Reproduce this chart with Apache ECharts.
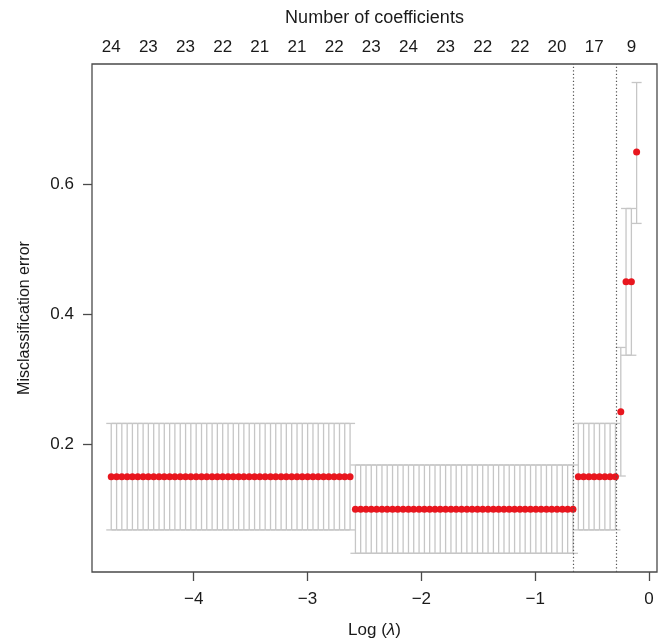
<!DOCTYPE html>
<html>
<head>
<meta charset="utf-8">
<title>cv misclassification error</title>
<script src="https://cdn.jsdelivr.net/npm/echarts@6/dist/echarts.min.js"></script>
<style>
    html, body { margin: 0; padding: 0; background: #fff; }
    #chart { width: 666px; height: 644px; }
</style>
</head>
<body>
<div id="chart"></div>
<script>
    // log(lambda) for the 100 fitted lambdas
    var logLambda = [
        -4.724, -4.677, -4.631, -4.584, -4.538, -4.491, -4.444, -4.398, -4.351, -4.304,
        -4.258, -4.211, -4.165, -4.118, -4.071, -4.025, -3.978, -3.931, -3.885, -3.838,
        -3.792, -3.745, -3.698, -3.652, -3.605, -3.559, -3.512, -3.465, -3.419, -3.372,
        -3.325, -3.279, -3.232, -3.186, -3.139, -3.092, -3.046, -2.999, -2.952, -2.906,
        -2.859, -2.813, -2.766, -2.719, -2.673, -2.626, -2.579, -2.533, -2.486, -2.440,
        -2.393, -2.346, -2.300, -2.253, -2.207, -2.160, -2.113, -2.067, -2.020, -1.973,
        -1.927, -1.880, -1.834, -1.787, -1.740, -1.694, -1.647, -1.600, -1.554, -1.507,
        -1.461, -1.414, -1.367, -1.321, -1.274, -1.228, -1.181, -1.134, -1.088, -1.041,
        -0.994, -0.948, -0.901, -0.855, -0.808, -0.761, -0.715, -0.668, -0.621, -0.575,
        -0.528, -0.482, -0.435, -0.388, -0.342, -0.295, -0.248, -0.202, -0.155, -0.109
    ];

    // mean cv misclassification error
    var cvm = [
        0.15, 0.15, 0.15, 0.15, 0.15, 0.15, 0.15, 0.15, 0.15, 0.15,
        0.15, 0.15, 0.15, 0.15, 0.15, 0.15, 0.15, 0.15, 0.15, 0.15,
        0.15, 0.15, 0.15, 0.15, 0.15, 0.15, 0.15, 0.15, 0.15, 0.15,
        0.15, 0.15, 0.15, 0.15, 0.15, 0.15, 0.15, 0.15, 0.15, 0.15,
        0.15, 0.15, 0.15, 0.15, 0.15, 0.15, 0.10, 0.10, 0.10, 0.10,
        0.10, 0.10, 0.10, 0.10, 0.10, 0.10, 0.10, 0.10, 0.10, 0.10,
        0.10, 0.10, 0.10, 0.10, 0.10, 0.10, 0.10, 0.10, 0.10, 0.10,
        0.10, 0.10, 0.10, 0.10, 0.10, 0.10, 0.10, 0.10, 0.10, 0.10,
        0.10, 0.10, 0.10, 0.10, 0.10, 0.10, 0.10, 0.10, 0.15, 0.15,
        0.15, 0.15, 0.15, 0.15, 0.15, 0.15, 0.25, 0.45, 0.45, 0.65
    ];

    // upper end of error bar (cvm + sd)
    var cvup = [
        0.232, 0.232, 0.232, 0.232, 0.232, 0.232, 0.232, 0.232, 0.232, 0.232,
        0.232, 0.232, 0.232, 0.232, 0.232, 0.232, 0.232, 0.232, 0.232, 0.232,
        0.232, 0.232, 0.232, 0.232, 0.232, 0.232, 0.232, 0.232, 0.232, 0.232,
        0.232, 0.232, 0.232, 0.232, 0.232, 0.232, 0.232, 0.232, 0.232, 0.232,
        0.232, 0.232, 0.232, 0.232, 0.232, 0.232, 0.168, 0.168, 0.168, 0.168,
        0.168, 0.168, 0.168, 0.168, 0.168, 0.168, 0.168, 0.168, 0.168, 0.168,
        0.168, 0.168, 0.168, 0.168, 0.168, 0.168, 0.168, 0.168, 0.168, 0.168,
        0.168, 0.168, 0.168, 0.168, 0.168, 0.168, 0.168, 0.168, 0.168, 0.168,
        0.168, 0.168, 0.168, 0.168, 0.168, 0.168, 0.168, 0.168, 0.232, 0.232,
        0.232, 0.232, 0.232, 0.232, 0.232, 0.232, 0.349, 0.563, 0.563, 0.757
    ];

    // lower end of error bar (cvm - sd)
    var cvlo = [
        0.068, 0.068, 0.068, 0.068, 0.068, 0.068, 0.068, 0.068, 0.068, 0.068,
        0.068, 0.068, 0.068, 0.068, 0.068, 0.068, 0.068, 0.068, 0.068, 0.068,
        0.068, 0.068, 0.068, 0.068, 0.068, 0.068, 0.068, 0.068, 0.068, 0.068,
        0.068, 0.068, 0.068, 0.068, 0.068, 0.068, 0.068, 0.068, 0.068, 0.068,
        0.068, 0.068, 0.068, 0.068, 0.068, 0.068, 0.032, 0.032, 0.032, 0.032,
        0.032, 0.032, 0.032, 0.032, 0.032, 0.032, 0.032, 0.032, 0.032, 0.032,
        0.032, 0.032, 0.032, 0.032, 0.032, 0.032, 0.032, 0.032, 0.032, 0.032,
        0.032, 0.032, 0.032, 0.032, 0.032, 0.032, 0.032, 0.032, 0.032, 0.032,
        0.032, 0.032, 0.032, 0.032, 0.032, 0.032, 0.032, 0.032, 0.068, 0.068,
        0.068, 0.068, 0.068, 0.068, 0.068, 0.068, 0.151, 0.337, 0.337, 0.540
    ];

    // top axis: number of nonzero coefficients
    var nzPos = [-4.724, -4.398, -4.071, -3.745, -3.419, -3.092, -2.766, -2.440,
                 -2.113, -1.787, -1.461, -1.134, -0.808, -0.482, -0.155];
    var nzLabels = ['24', '23', '23', '22', '21', '21', '22', '23',
                    '24', '23', '22', '22', '20', '17', '9'];

    var xTicks = [-4, -3, -2, -1, 0];
    var yTicks = [0.2, 0.4, 0.6];

    // lambda.min and lambda.1se
    var lambdaMarks = [-0.668, -0.295];

    var fontFamily = '"Liberation Sans", Arial, Helvetica, sans-serif';
    var textColor = '#1a1a1a';
    var frameColor = '#4a4a4a';

    var barData = [], pointData = [];
    for (var i = 0; i < logLambda.length; i++) {
        barData.push([logLambda[i], cvlo[i], cvup[i]]);
        pointData.push([logLambda[i], cvm[i]]);
    }

    function renderErrorBar(params, api) {
        var x = api.value(0);
        var lo = api.coord([x, api.value(1)]);
        var up = api.coord([x, api.value(2)]);
        var half = 5;
        var style = { stroke: '#c6c6c6', lineWidth: 1.3 };
        return {
            type: 'group',
            children: [
                { type: 'line', shape: { x1: up[0], y1: up[1], x2: lo[0], y2: lo[1] }, style: style },
                { type: 'line', shape: { x1: up[0] - half, y1: up[1], x2: up[0] + half, y2: up[1] }, style: style },
                { type: 'line', shape: { x1: lo[0] - half, y1: lo[1], x2: lo[0] + half, y2: lo[1] }, style: style }
            ]
        };
    }

    function nzFormatter(value) {
        var best = 0;
        for (var k = 1; k < nzPos.length; k++) {
            if (Math.abs(nzPos[k] - value) < Math.abs(nzPos[best] - value)) {
                best = k;
            }
        }
        return nzLabels[best];
    }

    var chart = echarts.init(document.getElementById('chart'), null, { renderer: 'canvas' });

    var option = {
        animation: false,
        backgroundColor: '#ffffff',
        textStyle: { fontFamily: fontFamily, color: textColor },
        grid: {
            left: 92,
            right: 9,
            top: 64,
            bottom: 72,
            show: true,
            borderColor: frameColor,
            borderWidth: 1.3,
            backgroundColor: 'transparent'
        },
        xAxis: [{
            type: 'value',
            position: 'bottom',
            min: -4.893,
            max: 0.07,
            splitLine: { show: false },
            axisLine: { show: false, onZero: false },
            axisTick: {
                show: true,
                length: 9,
                customValues: xTicks,
                lineStyle: { color: frameColor, width: 1.3 }
            },
            axisLabel: {
                customValues: xTicks,
                margin: 19,
                fontSize: 17,
                color: textColor,
                fontFamily: fontFamily,
                formatter: function (v) {
                    return String(v).replace('-', '\u2212');
                }
            },
            name: 'Log ({i|\u03bb})',
            nameLocation: 'middle',
            nameGap: 50,
            nameTextStyle: {
                fontSize: 17,
                color: textColor,
                fontFamily: fontFamily,
                rich: {
                    i: { fontSize: 17, fontStyle: 'italic', color: textColor, fontFamily: fontFamily }
                }
            }
        }, {
            type: 'value',
            position: 'top',
            min: -4.893,
            max: 0.07,
            splitLine: { show: false },
            axisLine: { show: false, onZero: false },
            axisTick: { show: false },
            axisLabel: {
                customValues: nzPos,
                margin: 8,
                fontSize: 17,
                color: textColor,
                fontFamily: fontFamily,
                formatter: nzFormatter
            },
            name: 'Number of coefficients',
            nameLocation: 'middle',
            nameGap: 37,
            nameTextStyle: { fontSize: 18, color: textColor, fontFamily: fontFamily }
        }],
        yAxis: {
            type: 'value',
            min: 0.0032,
            max: 0.7855,
            splitLine: { show: false },
            axisLine: { show: false, onZero: false },
            axisTick: {
                show: true,
                length: 9,
                customValues: yTicks,
                lineStyle: { color: frameColor, width: 1.3 }
            },
            axisLabel: {
                customValues: yTicks,
                margin: 18,
                fontSize: 17,
                color: textColor,
                fontFamily: fontFamily
            },
            name: 'Misclassification error',
            nameLocation: 'middle',
            nameGap: 59,
            nameTextStyle: { fontSize: 16, color: textColor, fontFamily: fontFamily }
        },
        series: [{
            name: 'sd',
            type: 'custom',
            xAxisIndex: 0,
            renderItem: renderErrorBar,
            encode: { x: 0, y: [1, 2] },
            data: barData,
            z: 2
        }, {
            name: 'cvm',
            type: 'scatter',
            xAxisIndex: 0,
            symbol: 'circle',
            symbolSize: 7,
            itemStyle: { color: '#e8161e', opacity: 1 },
            data: pointData,
            z: 3,
            markLine: {
                silent: true,
                symbol: ['none', 'none'],
                label: { show: false },
                lineStyle: { color: '#555555', type: [1.3, 2.2], width: 1.2 },
                data: [
                    { xAxis: lambdaMarks[0] },
                    { xAxis: lambdaMarks[1] }
                ]
            }
        }]
    };

    chart.setOption(option);
</script>
</body>
</html>
